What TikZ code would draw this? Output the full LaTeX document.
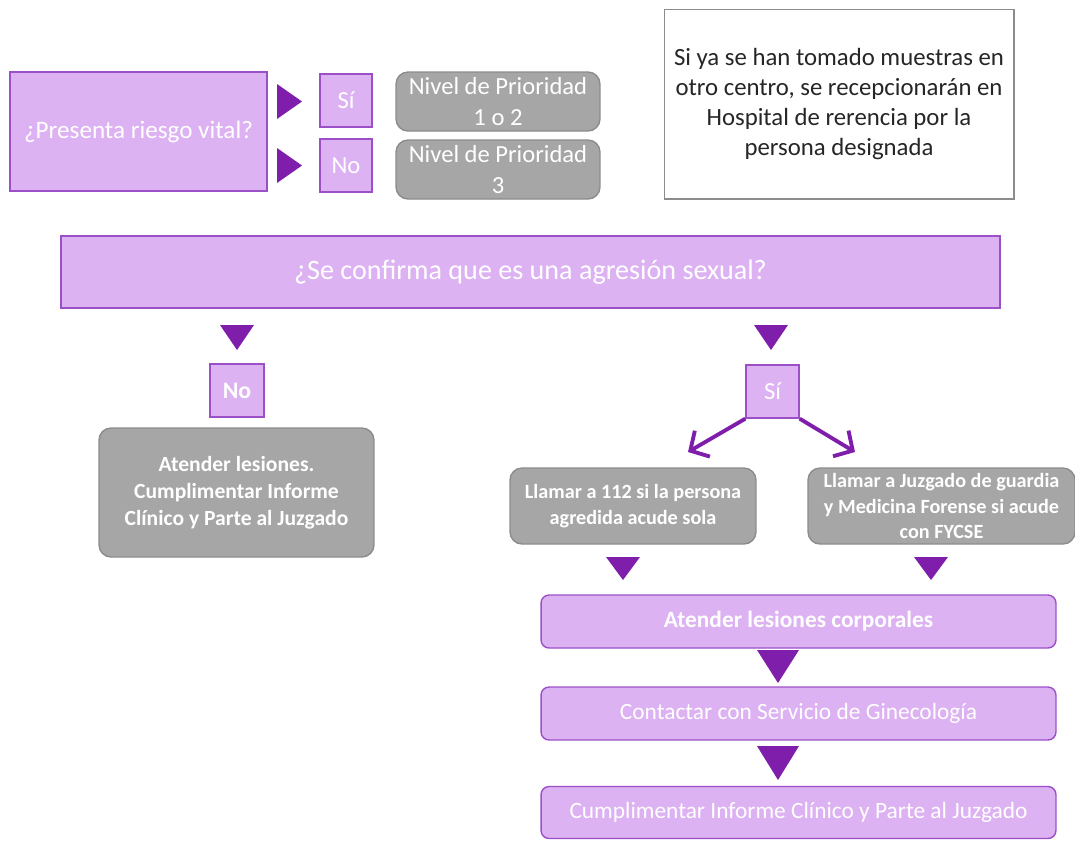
\documentclass[tikz,border=0pt]{standalone}
\usepackage{fontspec}
\setmainfont{Carlito}
\usetikzlibrary{arrows.meta}
\definecolor{lila}{RGB}{221,178,242}
\definecolor{lilaborde}{RGB}{155,80,200}
\definecolor{morado}{RGB}{127,30,170}
\definecolor{gris}{RGB}{166,166,166}
\definecolor{grisborde}{RGB}{140,140,140}
\tikzset{
  lilabox/.style={draw=lilaborde, fill=lila, line width=0.8pt, text=white, align=center, inner sep=0pt},
  grisbox/.style={draw=grisborde, fill=gris, line width=0.8pt, text=white, align=center, rounded corners=0.24cm, inner sep=0pt},
  notabox/.style={draw=grisborde, fill=white, line width=0.6pt, text=black!85, align=center, inner sep=0pt},
  flecha/.style={fill=morado},
  rama/.style={draw=morado, line width=2.2pt, -{Straight Barb[length=0.28cm, width=0.6cm]}}
}
\begin{document}
\begin{tikzpicture}[x=0.02cm, y=-0.02cm]
\useasboundingbox (0,0) rectangle (1075,840);
% riesgo vital
\node [lilabox, minimum width=5.14cm, minimum height=2.38cm, font=\fontsize{14.3}{17}\selectfont] (riesgo) at (138.5,131.5) {¿Presenta riesgo vital?};
\fill [flecha] (277,84) -- (302,101.5) -- (277,119) -- cycle;
\fill [flecha] (277,148) -- (302,165.5) -- (277,183) -- cycle;
\node [lilabox, minimum width=1.04cm, minimum height=1.06cm, font=\fontsize{14}{16}\selectfont] (si1) at (346,100.5) {Sí};
\node [lilabox, minimum width=1.04cm, minimum height=1.06cm, font=\fontsize{14}{16}\selectfont] (no1) at (346,165.5) {No};
\node [grisbox, minimum width=4.08cm, minimum height=1.18cm, font=\fontsize{14}{17.5}\selectfont] (nivel12) at (498,101.5) {Nivel de Prioridad\\1 o 2};
\node [grisbox, minimum width=4.08cm, minimum height=1.18cm, font=\fontsize{14}{17.5}\selectfont] (nivel3) at (498,169.5) {Nivel de Prioridad\\3};
% nota
\node [notabox, minimum width=7cm, minimum height=3.8cm, font=\fontsize{14.1}{17}\selectfont] (nota) at (839,104) {Si ya se han tomado muestras en\\otro centro, se recepcionarán en\\Hospital de rerencia por la\\persona designada};
% agresion
\node [lilabox, minimum width=18.78cm, minimum height=1.44cm, font=\fontsize{16}{19}\selectfont] (agresion) at (530.5,272) {¿Se confirma que es una agresión sexual?};
\fill [flecha] (220,325) -- (254,325) -- (237,350) -- cycle;
\fill [flecha] (754,325) -- (788,325) -- (771,350) -- cycle;
% rama no
\node [lilabox, minimum width=1.08cm, minimum height=1.06cm, font=\fontsize{13.5}{16}\selectfont\bfseries] (no2) at (237,390.5) {No};
\node [grisbox, minimum width=5.5cm, minimum height=2.58cm, font=\fontsize{12.3}{15.3}\selectfont\bfseries] (lesiones) at (236.5,492.5) {Atender lesiones.\\Cumplimentar Informe\\Clínico y Parte al Juzgado};
% rama si
\node [lilabox, minimum width=1.06cm, minimum height=1.06cm, font=\fontsize{14}{16}\selectfont] (si2) at (772.5,391.5) {Sí};
\coordinate (finA) at (688,452);
\coordinate (finB) at (855,452);
\draw [rama] (si2.south west) -- (finA);
\draw [rama] (si2.south east) -- (finB);
\node [grisbox, minimum width=4.92cm, minimum height=1.52cm, font=\fontsize{11.5}{14.7}\selectfont\bfseries] (llamar112) at (633,506) {Llamar a 112 si la persona\\agredida acude sola};
\node [grisbox, minimum width=5.34cm, minimum height=1.52cm, font=\fontsize{11.5}{14.7}\selectfont\bfseries] (juzgado) at (941.5,506) {Llamar a Juzgado de guardia\\y Medicina Forense si acude\\con FYCSE};
\fill [flecha] (606,557) -- (640,557) -- (623,580) -- cycle;
\fill [flecha] (914,557) -- (948,557) -- (931,580) -- cycle;
\node [lilabox, rounded corners=0.16cm, minimum width=10.3cm, minimum height=1.06cm, font=\fontsize{13.3}{16}\selectfont\bfseries] (corporales) at (798.5,621.5) {Atender lesiones corporales};
\fill [flecha] (757,650) -- (799,650) -- (778,683) -- cycle;
\node [lilabox, rounded corners=0.16cm, minimum width=10.3cm, minimum height=1.06cm, font=\fontsize{13.3}{16}\selectfont] (gineco) at (798.5,713.5) {Contactar con Servicio de Ginecología};
\fill [flecha] (757,746) -- (799,746) -- (778,780) -- cycle;
\node [lilabox, rounded corners=0.16cm, minimum width=10.3cm, minimum height=1.04cm, font=\fontsize{13.3}{16}\selectfont] (informe) at (798.5,812.5) {Cumplimentar Informe Clínico y Parte al Juzgado};
\end{tikzpicture}
\end{document}
